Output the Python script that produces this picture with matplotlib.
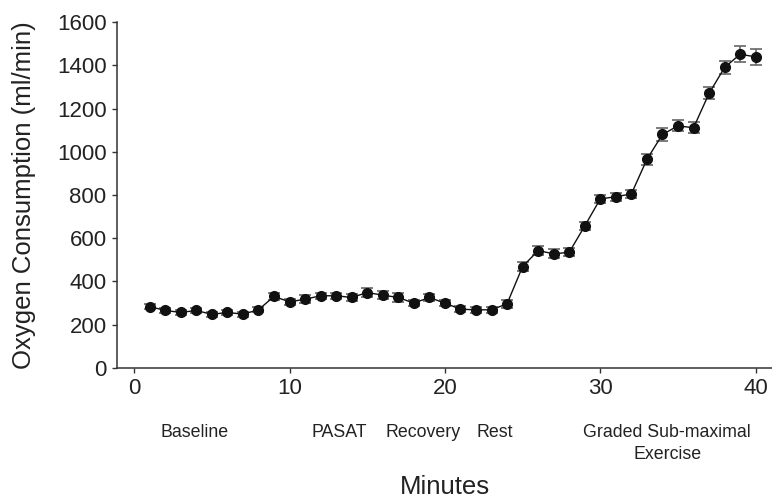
import numpy as np
import matplotlib
matplotlib.use('Agg')
import matplotlib.pyplot as plt

plt.rcParams['font.family'] = ['Liberation Sans', 'DejaVu Sans']

# oxygen consumption per minute (ml/min)
minutes = list(range(1, 41))
vo2 = [284, 266, 257, 266, 248, 257, 249, 269, 331, 306,
       318, 334, 334, 326, 349, 337, 326, 300, 326, 300,
       272, 269, 269, 297, 469, 543, 528, 535, 657, 782,
       792, 805, 965, 1080, 1120, 1111, 1270, 1390, 1451, 1439]
sem = [10, 10, 10, 10, 10, 10, 12, 12, 15, 15,
       18, 15, 15, 15, 20, 20, 20, 15, 15, 15,
       15, 15, 15, 18, 20, 20, 20, 18, 20, 18,
       18, 20, 25, 30, 25, 25, 28, 28, 38, 38]

# study phases along the time axis
phases = ['Baseline', 'PASAT', 'Recovery', 'Rest', 'Graded Sub-maximal\nExercise']
phase_mid = [3.9, 13.2, 18.6, 23.2, 34.3]

fig = plt.figure(figsize=(7.72, 5.01), dpi=100)
ax = fig.add_axes([0.1516, 0.2655, 0.8484, 0.6905])

ax.errorbar(minutes, vo2, yerr=sem, fmt='o-', color='#111111', ms=7,
            lw=1.0, ecolor='#666666', elinewidth=1.2, capsize=4, capthick=1.2)

ax.set_xlim(-1.1, 41.05)
ax.set_ylim(0, 1600)
ax.set_xticks([0, 10, 20, 30, 40])
ax.set_yticks(range(0, 1601, 200))

for s in ['top', 'right']:
    ax.spines[s].set_visible(False)
for s in ['left', 'bottom']:
    ax.spines[s].set_color('#333333')
    ax.spines[s].set_linewidth(1.1)
ax.tick_params(direction='out', length=3.5, width=1.0, color='#333333',
               labelsize=16, pad=4, labelcolor='#222222')

ax.set_ylabel('Oxygen Consumption (ml/min)', fontsize=18.5, color='#222222')
ax.yaxis.set_label_coords(-0.124, 0.5)

for name, xm in zip(phases, phase_mid):
    ax.text(xm, -0.162, name, transform=ax.get_xaxis_transform(), ha='center',
            va='top', fontsize=12.8, color='#222222', linespacing=1.4)

fig.text(0.5765, 0.028, 'Minutes', ha='center', va='center', fontsize=18.5, color='#222222')

plt.savefig('out.png', dpi=100)
